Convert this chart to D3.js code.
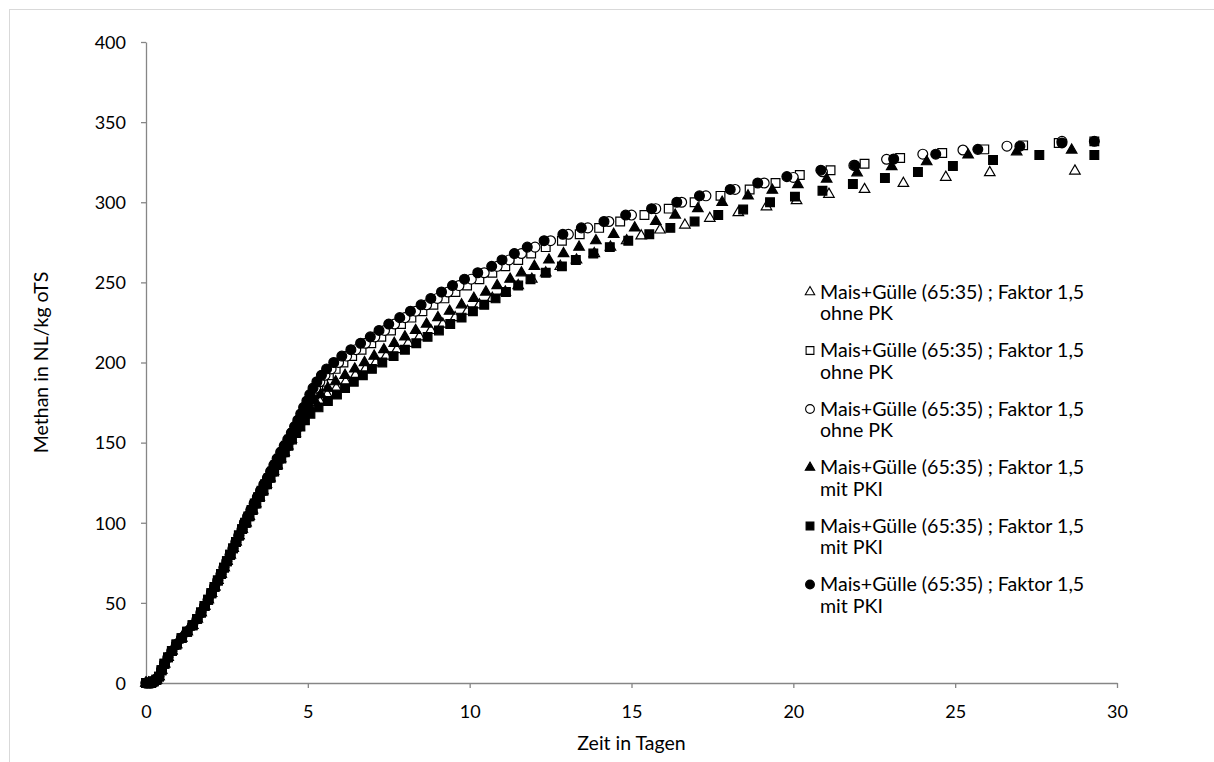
<!DOCTYPE html>
<html>
<head>
<meta charset="utf-8">
<script src="https://cdn.jsdelivr.net/npm/d3@7"></script>
<style>
body { margin: 0; background: #fff; }
text { font-family: Lato, "Noto Sans", sans-serif; fill: #000; }
</style>
</head>
<body>
<script>
var w = 1214, h = 762
var margin = {left: 146, right: 97, top: 42, bottom: 79}

// Methan in NL/kg oTS over Zeit in Tagen, six runs
var early_t = [0,0.08,0.16,0.24,0.32,0.4,0.48,0.57,0.68,0.8,0.94,1.1,1.27,1.44,1.58,1.7,1.81,1.92,2.02,2.12,2.22,2.32,2.41,2.5,2.6,2.69,2.78,2.87,2.97]
var early_v = [0,0,0,1,2,4,8,12,16,20,24,28,32,36,40,44,48,52,56,60,64,68,72,76,80,84,88,92,96]

var ot_t = [3.09,3.19,3.29,3.39,3.5,3.61,3.72,3.83,3.94,4.05,4.16,4.27,4.38,4.49,4.61,4.73,4.86,4.99,5.16,5.36,5.6,5.88,6.17,6.47,6.78,7.1,7.42,7.75,8.1,8.45,8.8,9.17,9.55,9.93,10.3,10.7,11.1,11.5,11.92,12.35,12.8,13.3,13.85,14.35,14.85,15.3,15.88,16.65,17.42,18.3,19.17,20.1,21.1,22.2,23.4,24.71,26.07,28.7]
var ot_v = [100,104,108,112,116,120,124,128,132,136,140,144,148,152,156,160,164,168,172,176,180,184,188,192,196,200,204,208,212,216,220,224,228,232,236,240,244,248,252,256,260,264,268,272,276,279,282.7,285.8,290,293.5,297.2,301,305,308,311.8,315.6,318.5,319.5]

var os_t = [3.06,3.16,3.26,3.36,3.46,3.57,3.68,3.79,3.9,4.0,4.11,4.22,4.32,4.43,4.55,4.66,4.77,4.87,4.97,5.08,5.2,5.32,5.47,5.65,5.86,6.1,6.37,6.66,6.96,7.27,7.57,7.88,8.2,8.54,8.88,9.22,9.56,9.92,10.3,10.7,11.1,11.5,11.9,12.35,12.85,13.4,14.0,14.65,15.4,16.15,16.95,17.75,18.65,19.45,20.2,21.15,22.2,23.3,24.6,25.9,27.1,28.2,29.3]
var os_v = [100,104,108,112,116,120,124,128,132,136,140,144,148,152,156,160,164,168,172,176,180,184,188,192,196,200,204,208,212,216,220,224,228,232,236,240,244,248,252,256,260,264,268,272,276,280,284,288,292,296,300,304,308,312,317,320,324,327.6,330.7,333,335.5,337,338]

var oc_t = [3.05,3.15,3.25,3.35,3.45,3.55,3.66,3.77,3.87,3.98,4.08,4.19,4.3,4.42,4.53,4.64,4.74,4.83,4.93,5.03,5.13,5.24,5.37,5.53,5.72,5.95,6.2,6.48,6.78,7.07,7.37,7.68,8.0,8.33,8.67,9.0,9.33,9.67,10.05,10.45,10.85,11.22,11.6,12.02,12.5,13.05,13.65,14.3,15.0,15.75,16.55,17.3,18.2,19.1,20.0,20.9,21.87,22.88,24.0,25.24,26.6,28.3]
var oc_v = [100,104,108,112,116,120,124,128,132,136,140,144,148,152,156,160,164,168,172,176,180,184,188,192,196,200,204,208,212,216,220,224,228,232,236,240,244,248,252,256,260,264,268,272,276,280,284,288,292,296,300,304,308,312,315.5,319,323,326.8,330,332.6,335,338]

var ft_t = [3.07,3.17,3.27,3.37,3.48,3.59,3.7,3.81,3.92,4.03,4.14,4.25,4.36,4.47,4.58,4.7,4.82,4.94,5.07,5.22,5.4,5.62,5.86,6.15,6.45,6.75,7.05,7.35,7.67,8.0,8.33,8.67,9.02,9.38,9.75,10.13,10.5,10.85,11.25,11.6,12.0,12.45,12.9,13.38,13.9,14.45,15.1,15.75,16.35,17.05,17.8,18.6,19.35,20.14,21.03,21.97,23.04,24.12,25.4,26.9,28.6]
var ft_v = [100,104,108,112,116,120,124,128,132,136,140,144,148,152,156,160,164,168,172,176,180,184,188,192,196,200,204,208,212,216,220,224,228,232,236,240,244,248,252,256,260,264,268,272,276,280,284,288,292,296,300,304,307.5,311,314.5,318.4,322.2,325.3,329.5,331.5,332.6]

var fs_t = [3.1,3.2,3.3,3.41,3.52,3.63,3.74,3.85,3.96,4.07,4.18,4.29,4.4,4.51,4.64,4.77,4.91,5.08,5.33,5.62,5.9,6.15,6.42,6.7,6.98,7.3,7.65,8.0,8.35,8.7,9.05,9.4,9.75,10.1,10.45,10.8,11.12,11.5,11.88,12.35,12.85,13.28,13.82,14.33,14.9,15.55,16.2,16.95,17.68,18.45,19.28,20.05,20.9,21.84,22.83,23.85,24.93,26.17,27.6,29.3]
var fs_v = [100,104,108,112,116,120,124,128,132,136,140,144,148,152,156,160,164,168,172,176,180,184,188,192,196,200,204,208,212,216,220,224,228,232,236,240,244,248,252,256,260,264,268,272,276,280,284,288,292,295.5,300,303.5,307.2,311.4,315.1,318.9,322.6,326.4,329.5,329.5]

var fc_t = [3.04,3.14,3.24,3.34,3.44,3.54,3.64,3.75,3.85,3.95,4.05,4.16,4.27,4.38,4.49,4.59,4.69,4.78,4.87,4.97,5.06,5.16,5.28,5.42,5.58,5.8,6.05,6.33,6.63,6.93,7.2,7.5,7.84,8.17,8.5,8.8,9.13,9.47,9.84,10.25,10.68,11.0,11.38,11.78,12.3,12.88,13.45,14.15,14.82,15.62,16.4,17.1,18.05,18.9,19.8,20.85,21.9,23.1,24.4,25.7,27.0,28.3,29.3]
var fc_v = [100,104,108,112,116,120,124,128,132,136,140,144,148,152,156,160,164,168,172,176,180,184,188,192,196,200,204,208,212,216,220,224,228,232,236,240,244,248,252,256,260,264,268,272,276,280,284,288,292,296,300,304,308,312,316,320,323,327,330,333,335,337,338]

var series_names = [
  ["Mais+Gülle (65:35) ; Faktor 1,5", "ohne PK"],
  ["Mais+Gülle (65:35) ; Faktor 1,5", "ohne PK"],
  ["Mais+Gülle (65:35) ; Faktor 1,5", "ohne PK"],
  ["Mais+Gülle (65:35) ; Faktor 1,5", "mit PKI"],
  ["Mais+Gülle (65:35) ; Faktor 1,5", "mit PKI"],
  ["Mais+Gülle (65:35) ; Faktor 1,5", "mit PKI"]
]
var x_ticks = [0,5,10,15,20,25,30]
var y_ticks = [0,50,100,150,200,250,300,350,400]

// marker style for each series (drawing order = excel order)
var markers = [
  {shape: d3.symbolTriangle, size: 48, fill: "#fff"},
  {shape: d3.symbolSquare, size: 76, fill: "#fff"},
  {shape: d3.symbolCircle, size: 76, fill: "#fff"},
  {shape: d3.symbolTriangle, size: 48, fill: "#000"},
  {shape: d3.symbolSquare, size: 76, fill: "#000"},
  {shape: d3.symbolCircle, size: 76, fill: "#000"}
]
var all_t = [early_t.concat(ot_t), early_t.concat(os_t), early_t.concat(oc_t), early_t.concat(ft_t), early_t.concat(fs_t), early_t.concat(fc_t)]
var all_v = [early_v.concat(ot_v), early_v.concat(os_v), early_v.concat(oc_v), early_v.concat(ft_v), early_v.concat(fs_v), early_v.concat(fc_v)]

var svg = d3.select("body").append("svg")
.attr("width", w)
.attr("height", h)

svg.append("rect")
.attr("x", 9.5)
.attr("y", 9.5)
.attr("width", w+10)
.attr("height", h+10)
.attr("fill", "none")
.attr("stroke", "#d9d9d9")

var x = d3.scaleLinear().domain([0, 30]).range([margin.left, w-margin.right])
var y = d3.scaleLinear().domain([0, 400]).range([h-margin.bottom, margin.top])

var xAxis = svg.append("g")
.attr("transform", "translate(0," + y(0) + ")")
.call(d3.axisBottom(x).tickValues(x_ticks).tickSize(5).tickPadding(17).tickSizeOuter(0))
var yAxis = svg.append("g")
.attr("transform", "translate(" + x(0) + ",0)")
.call(d3.axisLeft(y).tickValues(y_ticks).tickSize(5).tickPadding(15).tickSizeOuter(0))

svg.selectAll(".domain, .tick line").attr("stroke", "#868686").attr("stroke-width", 1.3)
svg.selectAll(".tick text").style("font-size", "18px").attr("fill", "#000")
yAxis.selectAll(".tick text").attr("dy", "0.35em")

svg.append("text")
.attr("x", (x(0)+x(30))/2)
.attr("y", 750)
.attr("text-anchor", "middle")
.style("font-size", "19.5px")
.text("Zeit in Tagen")

svg.append("text")
.attr("transform", "translate(48," + ((y(0)+y(400))/2) + "),rotate(-90)")
.attr("text-anchor", "middle")
.style("font-size", "19.5px")
.text("Methan in NL/kg oTS")

var plot = svg.append("g")
for (var s = 0; s < 6; s++)
{
  var pts = all_t[s].map(function(t, i) { return [t, all_v[s][i]] })
  plot.append("g").selectAll("path")
  .data(pts)
  .enter().append("path")
  .attr("d", d3.symbol().type(markers[s].shape).size(markers[s].size))
  .attr("transform", function(d) { return "translate(" + x(d[0]) + "," + y(d[1]) + ")" })
  .attr("fill", markers[s].fill)
  .attr("stroke", "#000")
  .attr("stroke-width", 1.2)
}

// legend
var legend = svg.append("g")
for (var s = 0; s < 6; s++)
{
  var ly = 292 + s*58.5
  legend.append("path")
  .attr("d", d3.symbol().type(markers[s].shape).size(markers[s].size*0.8))
  .attr("transform", "translate(810," + ly + ")")
  .attr("fill", markers[s].fill)
  .attr("stroke", "#000")
  .attr("stroke-width", 1.1)
  legend.append("text")
  .attr("x", 820)
  .attr("y", ly)
  .attr("dy", "0.35em")
  .style("font-size", "19.6px")
  .text(series_names[s][0])
  legend.append("text")
  .attr("x", 820)
  .attr("y", ly+21.5)
  .attr("dy", "0.35em")
  .style("font-size", "19.6px")
  .text(series_names[s][1])
}
</script>
</body>
</html>
